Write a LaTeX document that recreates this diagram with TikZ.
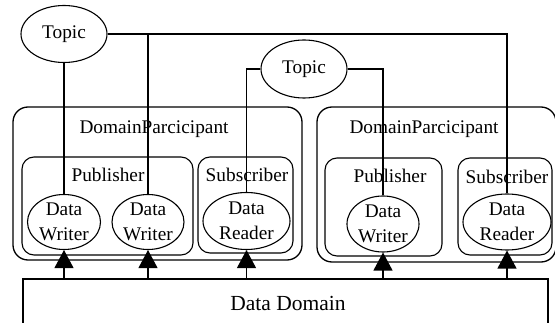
\documentclass[tikz,border=0pt]{standalone}
\usepackage{fontspec}
\setmainfont{Liberation Serif}
\usetikzlibrary{shapes.geometric,arrows.meta}
\begin{document}
\begin{tikzpicture}[x=1pt,y=-1pt, line width=1.1pt,
  ell/.style={draw, ellipse, inner sep=0pt, align=center, font=\fontsize{19.3}{25}\selectfont},
  outerbox/.style={draw, line width=1.3pt, rounded corners=15pt, inner sep=0pt},
  innerbox/.style={draw, line width=1.1pt, rounded corners=12pt, inner sep=0pt},
  lbl/.style={font=\fontsize{19.3}{23}\selectfont, inner sep=0pt},
  arr/.style={-{Triangle[length=18pt,width=19pt]}}]
\useasboundingbox (0,0) rectangle (555,323);
\clip (0,0) rectangle (555,323);

% DomainParticipant boxes
\node[outerbox, minimum width=289pt, minimum height=153pt] (dp1) at (157.5,183.5) {};
\node[outerbox, minimum width=239pt, minimum height=155pt] (dp2) at (436.5,184.5) {};
\node[lbl] (dp1l) at (154,129) {DomainParcicipant};
\node[lbl] (dp2l) at (424,129) {DomainParcicipant};

% Publisher / Subscriber boxes
\node[innerbox, minimum width=171pt, minimum height=98pt] (pub1) at (107.5,206) {};
\node[innerbox, minimum width=95pt, minimum height=96pt] (sub1) at (245.5,205) {};
\node[innerbox, minimum width=117pt, minimum height=98pt] (pub2) at (383.5,207) {};
\node[innerbox, minimum width=94pt, minimum height=97pt] (sub2) at (505,206.5) {};
\node[lbl] (pub1l) at (108,175) {Publisher};
\node[lbl] (sub1l) at (247,175) {Subscriber};
\node[lbl] (pub2l) at (390,176) {Publisher};
\node[lbl] (sub2l) at (507,177) {Subscriber};

% Topics
\node[ell, minimum width=86pt, minimum height=57pt] (t1) at (64,34) {Topic};
\node[ell, minimum width=86pt, minimum height=58pt] (t2) at (304,69) {Topic};

% Writers / Readers
\node[ell, minimum width=73pt, minimum height=55pt] (w1) at (64,222) {Data\\Writer};
\node[ell, minimum width=72pt, minimum height=55pt] (w2) at (148,222) {Data\\Writer};
\node[ell, minimum width=87pt, minimum height=57pt] (r1) at (246.5,221) {Data\\Reader};
\node[ell, minimum width=72pt, minimum height=56pt] (w3) at (383,224) {Data\\Writer};
\node[ell, minimum width=88pt, minimum height=56pt] (r2) at (507,222) {Data\\Reader};

% Data Domain
\node[draw, line width=1.1pt, minimum width=525pt, minimum height=48pt, inner sep=0pt] (dd) at (285.5,303) {};
\node[font=\fontsize{21.5}{25}\selectfont, inner sep=0pt] (ddl) at (288,303) {Data Domain};

% Topic connectors
\coordinate (j1) at (148,34);
\draw (t1.south) -- (w1.north);
\draw (t1.east) -| (r2.north);
\draw (j1) -- (w2.north);
\draw (t2.west) -| (r1.north);
\draw (t2.east) -| (w3.north);

% Arrows from Data Domain
\draw[arr] (dd.north -| w1.south) -- (w1.south);
\draw[arr] (dd.north -| w2.south) -- (w2.south);
\draw[arr] (dd.north -| r1.south) -- (r1.south);
\draw[arr] (dd.north -| w3.south) -- (w3.south);
\draw[arr] (dd.north -| r2.south) -- (r2.south);
\end{tikzpicture}
\end{document}
